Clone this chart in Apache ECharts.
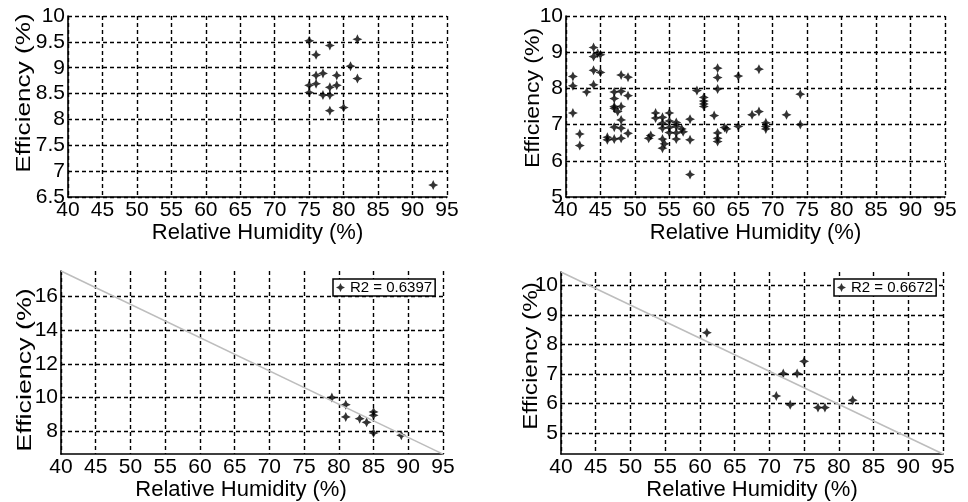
<!DOCTYPE html>
<html>
<head>
<meta charset="utf-8">
<script src="https://cdn.jsdelivr.net/npm/echarts@6/dist/echarts.min.js"></script>
<style>
html,body{margin:0;padding:0;background:#fff;}
#chart{width:968px;height:502px;}
</style>
</head>
<body>
<div id="chart"></div>
<script>
// ---- Data ----
const xTicks = [40, 45, 50, 55, 60, 65, 70, 75, 80, 85, 90, 95];

// Panel 1 (top-left)
const hum1 = [75, 78, 82, 76, 81, 82, 77, 76, 79, 75, 76, 78, 79, 75, 77, 78, 78, 80, 93];
const eff1 = [9.52, 9.43, 9.55, 9.25, 9.03, 8.79, 8.89, 8.85, 8.85, 8.66, 8.69, 8.62, 8.66, 8.52, 8.47, 8.47, 8.17, 8.23, 6.73];

// Panel 2 (top-right)
const hum2 = [41, 41, 41, 42, 42, 43,
  44, 44, 44.6, 45, 44, 45, 44,
  46, 46, 47, 48, 49, 47, 48, 48, 49, 49, 47, 47, 48, 47.5, 48, 47, 48, 47,
  52, 52.3, 53, 53, 54, 54, 54, 54, 54, 54.3, 55, 55, 55, 55, 56, 56, 56, 56, 56.8, 57, 58, 58, 58,
  59, 60, 60, 60, 60, 62, 62, 62, 61.5, 62, 62, 62, 63, 63.3, 65, 65, 68, 67, 68, 69, 69, 69, 72, 74, 74];
const eff2 = [8.33, 8.07, 7.32, 6.74, 6.42, 7.9,
  9.13, 8.88, 8.97, 8.93, 8.5, 8.44, 8.1,
  6.65, 6.58, 6.6, 6.62, 6.76, 7.9, 7.92, 8.37, 8.31, 7.8, 7.72, 7.5, 7.5, 7.36, 7.13, 6.93, 6.9, 7.45,
  6.62, 6.7, 7.32, 7.18, 7.2, 7.04, 6.9, 6.6, 6.35, 6.47, 7.32, 7.1, 6.92, 6.78, 7.06, 6.95, 6.77, 6.6, 6.88, 6.8, 7.15, 6.58, 5.62,
  7.94, 7.75, 7.65, 7.57, 7.5, 8.56, 8.3, 7.98, 7.25, 6.77, 6.62, 6.53, 6.92, 6.88, 8.34, 6.95, 8.53, 7.27, 7.36, 7.05, 6.95, 6.88, 7.27, 7.84, 7.0];

// Panel 3 (bottom-left)
const hum3 = [79, 81, 81, 83, 84, 85, 85, 85, 89];
const eff3 = [10.0, 9.58, 8.85, 8.75, 8.53, 9.15, 8.95, 7.9, 7.76];
const fitHum3 = [40, 95];
const fitEff3 = [17.5, 6.65];
const yTicks3 = [8, 10, 12, 14, 16];
const legend3 = 'R2 = 0.6397';

// Panel 4 (bottom-right)
const hum4 = [61, 72, 74, 75, 71, 73, 77, 78, 82];
const eff4 = [8.4, 7.02, 7.02, 7.43, 6.26, 5.96, 5.87, 5.87, 6.12];
const fitHum4 = [40, 95];
const fitEff4 = [10.45, 4.3];
const yTicks4 = [5, 6, 7, 8, 9, 10];
const legend4 = 'R2 = 0.6672';

const xTitle = 'Relative Humidity (%)';
const yTitle = 'Efficiency (%)';

// ---- Build ----
const zip = (xs, ys) => xs.map((x, i) => [x, ys[i]]);
const FONT = '"Liberation Sans", Arial, sans-serif';
const STAR = 'path://M0,-10 L3.2,-3.2 L10,0 L3.2,3.2 L0,10 L-3.2,3.2 L-10,0 L-3.2,-3.2 Z';

const grids = [
  {left: 68, top: 16, width: 379, height: 181},
  {left: 566, top: 16, width: 379, height: 181},
  {left: 61, top: 271, width: 382, height: 184},
  {left: 561, top: 272, width: 382, height: 182}
];

const splitStyle = {show: true, lineStyle: {color: '#000', type: [4, 3], width: 1.4}};
const axisLineStyle = {show: true, onZero: false, lineStyle: {color: '#000', width: 1.6}};
const labelStyle = {color: '#000', fontSize: 21, fontFamily: FONT, margin: 3};

function xAxis(i, nameGap, pad) {
  return {
    type: 'value', gridIndex: i, min: xTicks[0], max: xTicks[xTicks.length - 1], interval: 5,
    axisLine: axisLineStyle, axisTick: {show: false},
    axisLabel: labelStyle,
    splitLine: splitStyle,
    name: xTitle, nameLocation: 'middle', nameGap: nameGap,
    nameTextStyle: {color: '#000', fontSize: 22, fontFamily: FONT, padding: pad || 0}
  };
}
function yAxis(i, extra) {
  return Object.assign({
    type: 'value', gridIndex: i,
    axisLine: axisLineStyle, axisTick: {show: false},
    axisLabel: labelStyle,
    splitLine: splitStyle
  }, extra);
}

const scatterBase = {
  type: 'scatter', symbol: STAR, symbolSize: 10,
  itemStyle: {color: '#000'}, emphasis: {disabled: true}
};
const fitBase = {
  type: 'line', symbol: 'none', silent: true,
  lineStyle: {color: '#bdbdbd', width: 1.5}
};

function yTitleText(x, y, sx) {
  return {
    type: 'text', x: x, y: y, rotation: Math.PI / 2, scaleX: sx, scaleY: 1,
    style: {text: yTitle, font: '20px ' + FONT, fill: '#000',
      align: 'center', verticalAlign: 'middle', textAlign: 'center', textVerticalAlign: 'middle'}
  };
}

const legendBase = {
  orient: 'horizontal', padding: [1, 3, 1, 3], itemGap: 0, itemWidth: 9, itemHeight: 9,
  backgroundColor: '#fff', borderColor: '#000', borderWidth: 1.5,
  textStyle: {color: '#000', fontSize: 15, fontFamily: FONT}, selectedMode: false
};

const option = {
  backgroundColor: '#fff',
  animation: false,
  textStyle: {fontFamily: FONT},
  grid: grids,
  xAxis: [xAxis(0, 17), xAxis(1, 17), xAxis(2, 15, [0, 22, 0, 0]), xAxis(3, 16)],
  yAxis: [
    yAxis(0, {min: 6.5, max: 10, interval: 0.5}),
    yAxis(1, {min: 5, max: 10, interval: 1}),
    yAxis(2, {min: fitEff3[1], max: fitEff3[0],
      axisLabel: Object.assign({}, labelStyle, {customValues: yTicks3}),
      axisTick: {show: false, customValues: yTicks3}}),
    yAxis(3, {min: fitEff4[1], max: fitEff4[0],
      axisLabel: Object.assign({}, labelStyle, {customValues: yTicks4}),
      axisTick: {show: false, customValues: yTicks4}})
  ],
  legend: [
    Object.assign({}, legendBase, {data: [legend3], left: 333, top: 279}),
    Object.assign({}, legendBase, {data: [legend4], left: 834, top: 279})
  ],
  graphic: [
    yTitleText(24, 93, 1.31),
    yTitleText(533, 98, 1.15),
    yTitleText(25, 370, 1.34),
    yTitleText(531, 356, 1.21)
  ],
  series: [
    Object.assign({}, scatterBase, {name: 'panel1', xAxisIndex: 0, yAxisIndex: 0, data: zip(hum1, eff1)}),
    Object.assign({}, scatterBase, {name: 'panel2', xAxisIndex: 1, yAxisIndex: 1, data: zip(hum2, eff2)}),
    Object.assign({}, fitBase, {xAxisIndex: 2, yAxisIndex: 2, data: zip(fitHum3, fitEff3)}),
    Object.assign({}, scatterBase, {name: legend3, xAxisIndex: 2, yAxisIndex: 2, data: zip(hum3, eff3)}),
    Object.assign({}, fitBase, {xAxisIndex: 3, yAxisIndex: 3, data: zip(fitHum4, fitEff4)}),
    Object.assign({}, scatterBase, {name: legend4, xAxisIndex: 3, yAxisIndex: 3, data: zip(hum4, eff4)})
  ]
};

const chart = echarts.init(document.getElementById('chart'), null, {renderer: 'canvas'});
chart.setOption(option);
</script>
</body>
</html>
